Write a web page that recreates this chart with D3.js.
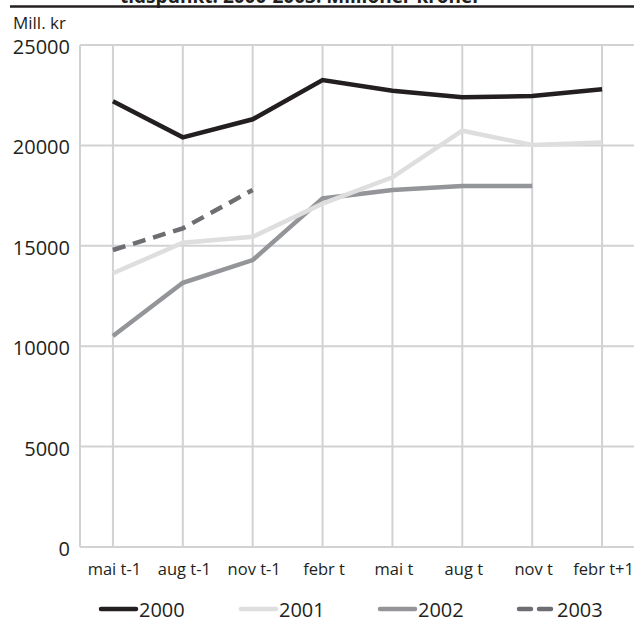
<!DOCTYPE html>
<html>
<head>
<meta charset="utf-8">
<script src="https://cdn.jsdelivr.net/npm/d3@7"></script>
<style>
  html, body { margin: 0; padding: 0; background: #fff; }
  svg { display: block; }
  text { font-family: "Open Sans", "Noto Sans", sans-serif; fill: #231f20; }
</style>
</head>
<body>
<svg id="chart" width="634" height="626"></svg>
<script>
const categories = ["mai t-1", "aug t-1", "nov t-1", "febr t", "mai t", "aug t", "nov t", "febr t+1"];
const s2000 = [22200, 20400, 21300, 23250, 22720, 22400, 22460, 22800];
const s2001 = [13630, 15150, 15450, 17100, 18410, 20730, 20020, 20150];
const s2002 = [10510, 13160, 14290, 17360, 17780, 17980, 17980, null];
const s2003 = [14790, 15870, 17780, null, null, null, null, null];
const seriesNames = ["2000", "2001", "2002", "2003"];
const yTicks = [0, 5000, 10000, 15000, 20000, 25000];
const titleText = "tidspunkt. 2000-2003. Millioner kroner";
const unitLabel = "Mill. kr";

(function () {
const seriesData = [s2000, s2001, s2002, s2003];
const colors = ["#231f20", "#dededf", "#939598", "#6d6e71"];
const dashes = [null, null, null, "13,8"];

const svg = d3.select("#chart");
const mLeft = 80, mRight = 640, mTop = 45, mBottom = 547;

const x = d3.scalePoint().domain(categories).range([78, 637]).padding(0.5);
const y = d3.scaleLinear().domain([0, 25000]).range([mBottom, mTop]);

svg.append("text").attr("x", 120).attr("y", 3)
  .attr("font-size", 19).attr("font-weight", "bold").text(titleText);
svg.append("line").attr("x1", 10).attr("x2", 634).attr("y1", 6.5).attr("y2", 6.5)
  .attr("stroke", "#231f20").attr("stroke-width", 2.5);

svg.append("text").attr("x", 13).attr("y", 29).attr("font-size", 17).text(unitLabel);

const grid = "#d1d2d4";
svg.append("g").selectAll("line").data(yTicks).join("line")
  .attr("x1", mLeft).attr("x2", mRight)
  .attr("y1", d => y(d)).attr("y2", d => y(d))
  .attr("stroke", grid).attr("stroke-width", 2);
svg.append("g").selectAll("line").data(categories).join("line")
  .attr("x1", d => x(d)).attr("x2", d => x(d))
  .attr("y1", mTop).attr("y2", mBottom)
  .attr("stroke", grid).attr("stroke-width", 2);
svg.append("line").attr("x1", mLeft).attr("x2", mLeft).attr("y1", mTop).attr("y2", mBottom)
  .attr("stroke", grid).attr("stroke-width", 2);

const yAxis = d3.axisLeft(y).tickValues(yTicks).tickSize(0).tickPadding(0).tickFormat(d3.format("d"));
const ya = svg.append("g").attr("transform", "translate(70,2)").call(yAxis);
ya.select(".domain").remove();
ya.selectAll("text").attr("font-size", 20).attr("fill", "#231f20")
  .style("font-family", "'Open Sans', sans-serif");

const xAxis = d3.axisBottom(x).tickSize(0).tickPadding(0);
const xa = svg.append("g").attr("transform", `translate(1,${mBottom + 16})`).call(xAxis);
xa.select(".domain").remove();
xa.selectAll("text").attr("font-size", 16.5).attr("fill", "#231f20")
  .style("font-family", "'Open Sans', sans-serif");

const line = d3.line()
  .defined(d => d.v != null)
  .x(d => x(d.c)).y(d => y(d.v));
[2, 1, 3, 0].forEach(i => {
  const pts = categories.map((c, j) => ({ c, v: seriesData[i][j] }));
  svg.append("path").datum(pts)
    .attr("d", line)
    .attr("fill", "none")
    .attr("stroke", colors[i])
    .attr("stroke-width", 4.5)
    .attr("stroke-linejoin", "miter")
    .attr("stroke-dasharray", dashes[i]);
});

const legX = [99, 239, 378, 517];
const legY = 609;
const lg = svg.append("g");
seriesNames.forEach((n, i) => {
  lg.append("line").attr("x1", legX[i] + 2).attr("x2", legX[i] + 37)
    .attr("y1", legY).attr("y2", legY)
    .attr("stroke", colors[i]).attr("stroke-width", 4.5)
    .attr("stroke-linecap", "round")
    .attr("stroke-dasharray", dashes[i] ? "12,8" : null);
  lg.append("text").attr("x", legX[i] + 40).attr("y", legY + 8)
    .attr("font-size", 20).text(n);
});
})();
</script>
</body>
</html>
